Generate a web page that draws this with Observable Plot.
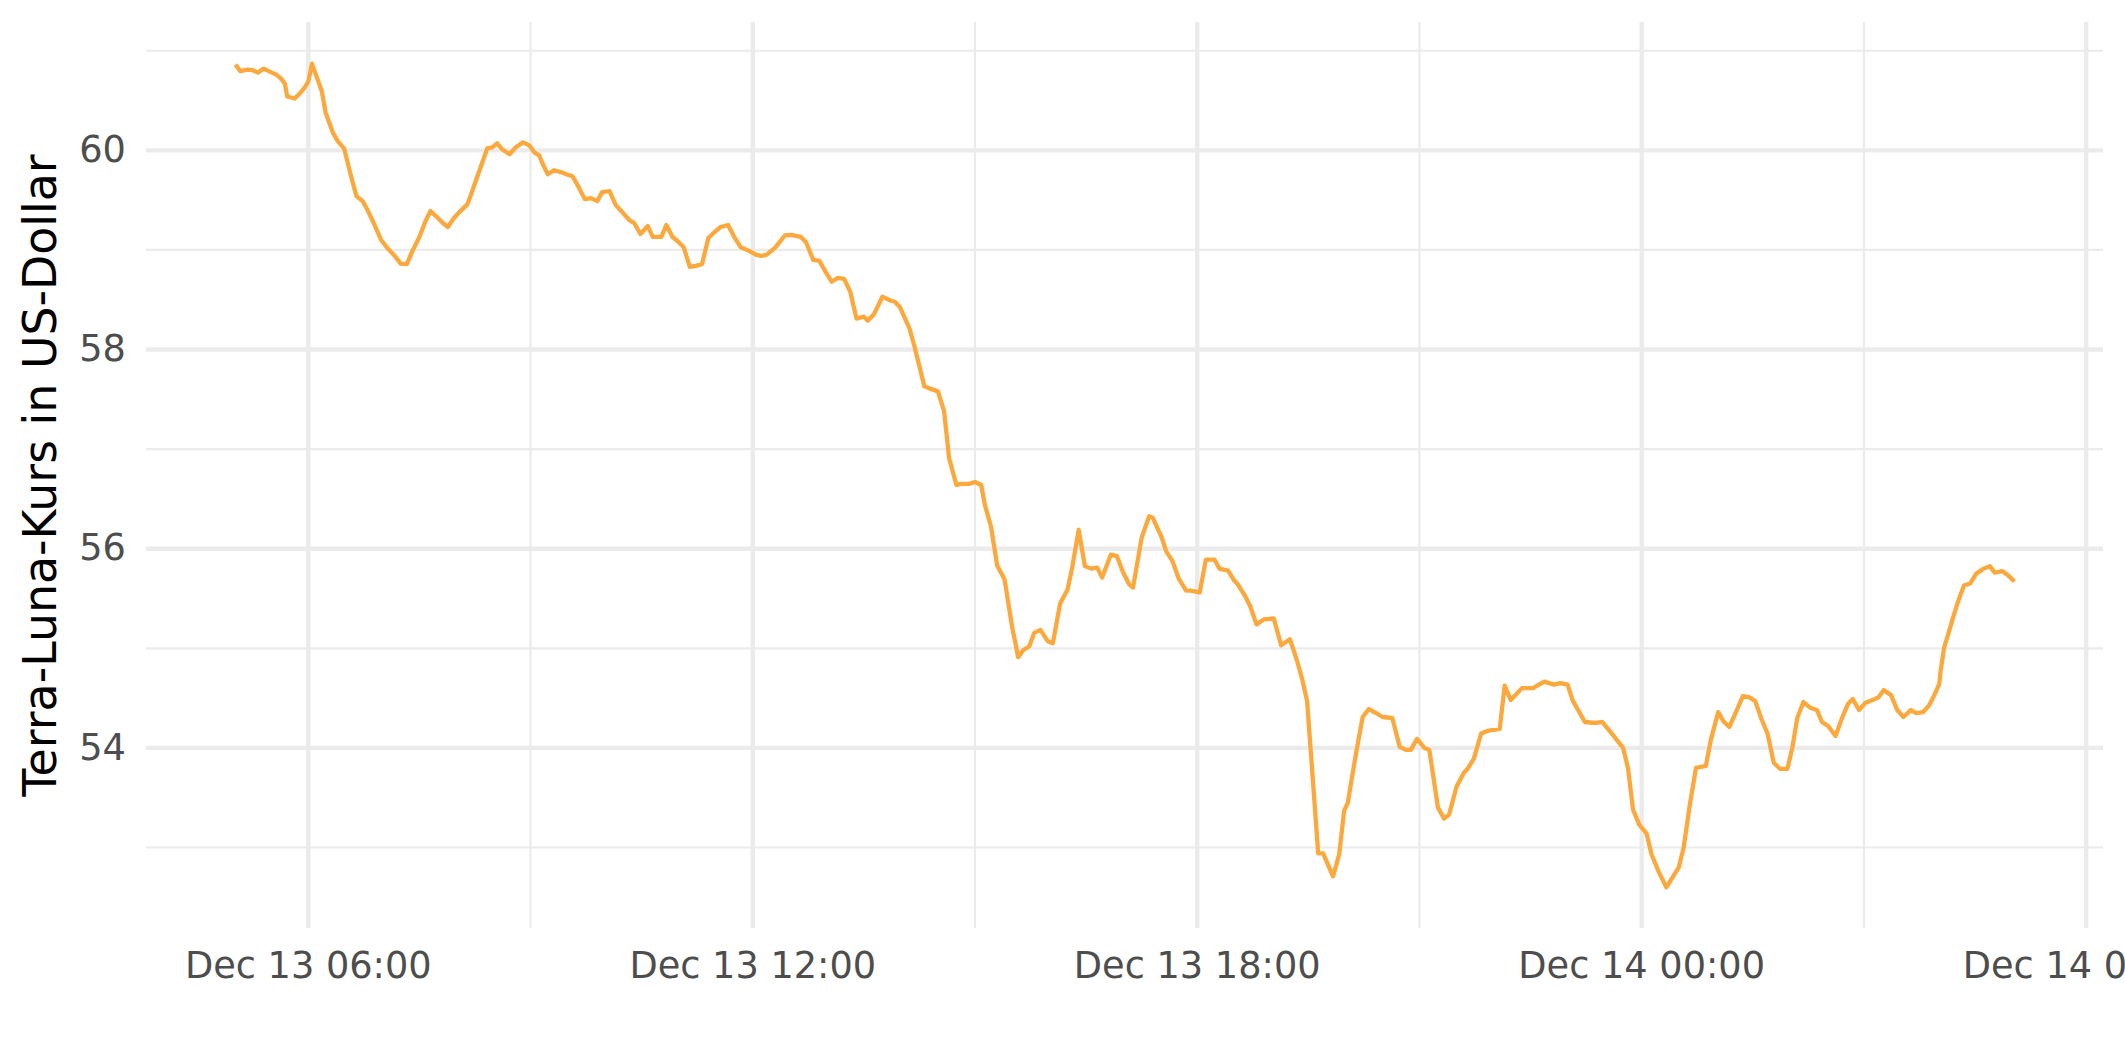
<!DOCTYPE html>
<html>
<head>
<meta charset="utf-8">
<script src="https://cdn.jsdelivr.net/npm/d3@7"></script>
<script src="https://cdn.jsdelivr.net/npm/@observablehq/plot@0.6"></script>
<style>
  html, body { margin: 0; padding: 0; background: #ffffff; overflow: hidden; }
  #chart svg { display: block; }
</style>
</head>
<body>
<div id="chart"></div>
<script>
// ---- data (UTC timestamps and Terra/LUNA price in USD) ----
const times = [
  "2021-12-13T05:01","2021-12-13T05:05","2021-12-13T05:11","2021-12-13T05:15","2021-12-13T05:19","2021-12-13T05:24",
  "2021-12-13T05:28","2021-12-13T05:34","2021-12-13T05:38","2021-12-13T05:41","2021-12-13T05:43","2021-12-13T05:49",
  "2021-12-13T05:53","2021-12-13T05:57","2021-12-13T06:00","2021-12-13T06:03","2021-12-13T06:07","2021-12-13T06:11",
  "2021-12-13T06:14","2021-12-13T06:20","2021-12-13T06:24","2021-12-13T06:29","2021-12-13T06:34","2021-12-13T06:39",
  "2021-12-13T06:44","2021-12-13T06:48","2021-12-13T06:53","2021-12-13T06:59","2021-12-13T07:04","2021-12-13T07:10",
  "2021-12-13T07:15","2021-12-13T07:20","2021-12-13T07:24","2021-12-13T07:30","2021-12-13T07:35","2021-12-13T07:39",
  "2021-12-13T07:45","2021-12-13T07:49","2021-12-13T07:53","2021-12-13T07:58","2021-12-13T08:04","2021-12-13T08:09",
  "2021-12-13T08:13","2021-12-13T08:19","2021-12-13T08:25","2021-12-13T08:29","2021-12-13T08:33","2021-12-13T08:37",
  "2021-12-13T08:43","2021-12-13T08:48","2021-12-13T08:54","2021-12-13T08:59","2021-12-13T09:03","2021-12-13T09:07",
  "2021-12-13T09:10","2021-12-13T09:14","2021-12-13T09:19","2021-12-13T09:25","2021-12-13T09:29","2021-12-13T09:34",
  "2021-12-13T09:39","2021-12-13T09:44","2021-12-13T09:49","2021-12-13T09:54","2021-12-13T09:58","2021-12-13T10:04",
  "2021-12-13T10:09","2021-12-13T10:15","2021-12-13T10:20","2021-12-13T10:24","2021-12-13T10:29","2021-12-13T10:35",
  "2021-12-13T10:39","2021-12-13T10:46","2021-12-13T10:50","2021-12-13T10:55","2021-12-13T10:59","2021-12-13T11:04",
  "2021-12-13T11:09","2021-12-13T11:14","2021-12-13T11:19","2021-12-13T11:24","2021-12-13T11:30","2021-12-13T11:34",
  "2021-12-13T11:40","2021-12-13T11:45","2021-12-13T11:50","2021-12-13T11:57","2021-12-13T12:03","2021-12-13T12:07",
  "2021-12-13T12:11","2021-12-13T12:18","2021-12-13T12:26","2021-12-13T12:31","2021-12-13T12:39","2021-12-13T12:43",
  "2021-12-13T12:49","2021-12-13T12:54","2021-12-13T12:59","2021-12-13T13:04","2021-12-13T13:09","2021-12-13T13:14",
  "2021-12-13T13:19","2021-12-13T13:24","2021-12-13T13:30","2021-12-13T13:33","2021-12-13T13:38","2021-12-13T13:45",
  "2021-12-13T13:52","2021-12-13T13:55","2021-12-13T13:59","2021-12-13T14:07","2021-12-13T14:11","2021-12-13T14:15",
  "2021-12-13T14:19","2021-12-13T14:23","2021-12-13T14:30","2021-12-13T14:35","2021-12-13T14:39","2021-12-13T14:45",
  "2021-12-13T14:49","2021-12-13T14:55","2021-12-13T15:00","2021-12-13T15:05","2021-12-13T15:08","2021-12-13T15:13",
  "2021-12-13T15:18","2021-12-13T15:24","2021-12-13T15:30","2021-12-13T15:35","2021-12-13T15:39","2021-12-13T15:44",
  "2021-12-13T15:48","2021-12-13T15:53","2021-12-13T15:59","2021-12-13T16:03","2021-12-13T16:09","2021-12-13T16:15",
  "2021-12-13T16:19","2021-12-13T16:24","2021-12-13T16:29","2021-12-13T16:34","2021-12-13T16:39","2021-12-13T16:43",
  "2021-12-13T16:50","2021-12-13T16:55","2021-12-13T17:00","2021-12-13T17:05","2021-12-13T17:08","2021-12-13T17:15",
  "2021-12-13T17:21","2021-12-13T17:24","2021-12-13T17:31","2021-12-13T17:35","2021-12-13T17:40","2021-12-13T17:45",
  "2021-12-13T17:51","2021-12-13T17:55","2021-12-13T18:02","2021-12-13T18:07","2021-12-13T18:14","2021-12-13T18:18",
  "2021-12-13T18:25","2021-12-13T18:30","2021-12-13T18:33","2021-12-13T18:39","2021-12-13T18:43","2021-12-13T18:48",
  "2021-12-13T18:54","2021-12-13T19:02","2021-12-13T19:08","2021-12-13T19:15","2021-12-13T19:17","2021-12-13T19:21",
  "2021-12-13T19:25","2021-12-13T19:29","2021-12-13T19:38","2021-12-13T19:42","2021-12-13T19:50","2021-12-13T19:55",
  "2021-12-13T19:59","2021-12-13T20:02","2021-12-13T20:05","2021-12-13T20:09","2021-12-13T20:14","2021-12-13T20:19",
  "2021-12-13T20:25","2021-12-13T20:30","2021-12-13T20:38","2021-12-13T20:44","2021-12-13T20:49","2021-12-13T20:53",
  "2021-12-13T20:58","2021-12-13T21:04","2021-12-13T21:08","2021-12-13T21:15","2021-12-13T21:20","2021-12-13T21:24",
  "2021-12-13T21:30","2021-12-13T21:36","2021-12-13T21:39","2021-12-13T21:44","2021-12-13T21:50","2021-12-13T21:55",
  "2021-12-13T22:05","2021-12-13T22:09","2021-12-13T22:14","2021-12-13T22:23","2021-12-13T22:32","2021-12-13T22:41",
  "2021-12-13T22:49","2021-12-13T22:54","2021-12-13T23:00","2021-12-13T23:04","2021-12-13T23:14","2021-12-13T23:23",
  "2021-12-13T23:28","2021-12-13T23:35","2021-12-13T23:45","2021-12-13T23:49","2021-12-13T23:53","2021-12-13T23:58",
  "2021-12-14T00:04","2021-12-14T00:08","2021-12-14T00:14","2021-12-14T00:20","2021-12-14T00:25","2021-12-14T00:30",
  "2021-12-14T00:34","2021-12-14T00:39","2021-12-14T00:44","2021-12-14T00:52","2021-12-14T00:56","2021-12-14T01:02",
  "2021-12-14T01:06","2021-12-14T01:11","2021-12-14T01:16","2021-12-14T01:22","2021-12-14T01:27","2021-12-14T01:32",
  "2021-12-14T01:37","2021-12-14T01:42","2021-12-14T01:47","2021-12-14T01:52","2021-12-14T01:58","2021-12-14T02:02",
  "2021-12-14T02:06","2021-12-14T02:11","2021-12-14T02:17","2021-12-14T02:22","2021-12-14T02:26","2021-12-14T02:31",
  "2021-12-14T02:37","2021-12-14T02:42","2021-12-14T02:47","2021-12-14T02:51","2021-12-14T02:56","2021-12-14T03:01",
  "2021-12-14T03:07","2021-12-14T03:12","2021-12-14T03:16","2021-12-14T03:22","2021-12-14T03:27","2021-12-14T03:32",
  "2021-12-14T03:38","2021-12-14T03:42","2021-12-14T03:48","2021-12-14T03:53","2021-12-14T03:57","2021-12-14T04:01",
  "2021-12-14T04:02","2021-12-14T04:05","2021-12-14T04:08","2021-12-14T04:12","2021-12-14T04:16","2021-12-14T04:21",
  "2021-12-14T04:26","2021-12-14T04:31","2021-12-14T04:37","2021-12-14T04:42","2021-12-14T04:46","2021-12-14T04:52",
  "2021-12-14T04:57","2021-12-14T05:02"
];
const prices = [
  60.86,60.795,60.81,60.805,60.78,60.82,
  60.795,60.76,60.72,60.67,60.54,60.52,
  60.57,60.63,60.69,60.87,60.73,60.59,
  60.38,60.175,60.09,60.02,59.77,59.54,
  59.49,59.40,59.27,59.10,59.02,58.94,
  58.86,58.86,58.98,59.13,59.29,59.39,
  59.32,59.27,59.23,59.32,59.40,59.46,
  59.60,59.81,60.02,60.03,60.07,60.01,
  59.96,60.03,60.08,60.05,59.98,59.95,
  59.86,59.76,59.80,59.78,59.76,59.74,
  59.63,59.51,59.52,59.49,59.58,59.59,
  59.45,59.37,59.30,59.27,59.16,59.24,
  59.13,59.13,59.25,59.13,59.09,59.03,
  58.83,58.84,58.86,59.12,59.19,59.23,
  59.25,59.13,59.03,58.99,58.95,58.94,
  58.95,59.02,59.145,59.15,59.13,59.08,
  58.90,58.89,58.78,58.68,58.72,58.71,
  58.58,58.31,58.33,58.29,58.35,58.53,
  58.49,58.48,58.43,58.21,58.03,57.83,
  57.63,57.61,57.58,57.38,56.91,56.64,
  56.65,56.65,56.67,56.64,56.44,56.22,
  55.83,55.69,55.22,54.91,54.98,55.02,
  55.155,55.185,55.07,55.05,55.45,55.59,
  55.83,56.19,55.825,55.80,55.81,55.71,
  55.94,55.925,55.76,55.64,55.61,56.11,
  56.325,56.31,56.12,55.97,55.875,55.70,
  55.58,55.58,55.56,55.89,55.89,55.80,
  55.78,55.68,55.64,55.52,55.42,55.24,
  55.29,55.30,55.03,55.09,55.02,54.87,
  54.69,54.47,52.94,52.94,52.71,52.93,
  53.37,53.45,53.68,53.97,54.31,54.39,
  54.35,54.31,54.30,54.01,53.98,53.98,
  54.09,54.00,53.98,53.40,53.29,53.33,
  53.61,53.75,53.79,53.89,54.145,54.17,
  54.19,54.625,54.48,54.60,54.60,54.665,
  54.635,54.65,54.635,54.48,54.26,54.25,
  54.26,54.155,54.00,53.79,53.38,53.23,
  53.14,52.93,52.75,52.60,52.70,52.80,
  53.00,53.43,53.80,53.82,54.08,54.36,
  54.27,54.21,54.35,54.52,54.51,54.47,
  54.29,54.14,53.85,53.79,53.79,54.00,
  54.30,54.46,54.40,54.38,54.26,54.22,
  54.12,54.29,54.44,54.49,54.38,54.45,
  54.48,54.51,54.58,54.53,54.38,54.31,
  54.38,54.35,54.36,54.43,54.53,54.64,
  54.76,55.01,55.13,55.30,55.46,55.63,
  55.65,55.75,55.80,55.825,55.76,55.775,
  55.73,55.67
];
const yTicks = [54, 56, 58, 60];
const yMinorTicks = [53, 55, 57, 59, 61];
const xTicks = ["2021-12-13T06:00","2021-12-13T12:00","2021-12-13T18:00","2021-12-14T00:00","2021-12-14T06:00"];
const xMinorTicks = ["2021-12-13T09:00","2021-12-13T15:00","2021-12-13T21:00","2021-12-14T03:00"];
const yTitle = "Terra-Luna-Kurs in US-Dollar";

// ---- build ----
const parse = s => new Date(s + ":00Z");
const data = times.map((t, i) => ({date: parse(t), price: prices[i]}));

function expand(ext) {
  const pad = (ext[1] - ext[0]) * 0.05;
  return [ext[0] - pad, ext[1] + pad];
}
const xExt = d3.extent(data, d => +d.date);
const xDom = expand(xExt).map(v => new Date(v));
const yDom = expand(d3.extent(data, d => d.price));

const W = 2125, H = 1062;
const mL = 146, mR = 22, mT = 22, mB = 134;
const gridColor = "#EBEBEB";
const textColor = "#4D4D4D";
const tickFont = 36.7;
const titleFont = 45.8;
const fmt = d3.utcFormat("%b %d %H:%M");

const chart = Plot.plot({
  width: W,
  height: H,
  marginLeft: mL,
  marginRight: mR,
  marginTop: mT,
  marginBottom: mB,
  style: {fontFamily: "DejaVu Sans", fontSize: tickFont + "px", background: "#ffffff", color: textColor},
  x: {type: "utc", domain: xDom, label: null},
  y: {domain: yDom, label: null},
  marks: [
    Plot.gridY(yMinorTicks, {stroke: gridColor, strokeOpacity: 1, strokeWidth: 2.2}),
    Plot.gridX(xMinorTicks.map(parse), {stroke: gridColor, strokeOpacity: 1, strokeWidth: 2.2}),
    Plot.gridY(yTicks, {stroke: gridColor, strokeOpacity: 1, strokeWidth: 4.4}),
    Plot.gridX(xTicks.map(parse), {stroke: gridColor, strokeOpacity: 1, strokeWidth: 4.4}),
    Plot.axisY(yTicks, {tickSize: 0, tickPadding: 20.6, label: null, tickFormat: d => String(d), fontSize: tickFont, color: textColor}),
    Plot.axisX(xTicks.map(parse), {tickSize: 0, tickPadding: 23.5, label: null, tickFormat: fmt, fontSize: tickFont, color: textColor}),
    Plot.line(data, {x: "date", y: "price", stroke: "#FCA83C", strokeWidth: 4.3, strokeLinejoin: "round", strokeLinecap: "butt", curve: "linear"}),
    Plot.text([yTitle], {
      frameAnchor: "left",
      text: d => d,
      rotate: -90,
      dx: -(mL - 61) - 0.32 * titleFont - 6,
      fontSize: titleFont,
      fill: "#000000",
      textAnchor: "middle"
    })
  ]
});
document.getElementById("chart").appendChild(chart);
</script>
</body>
</html>
